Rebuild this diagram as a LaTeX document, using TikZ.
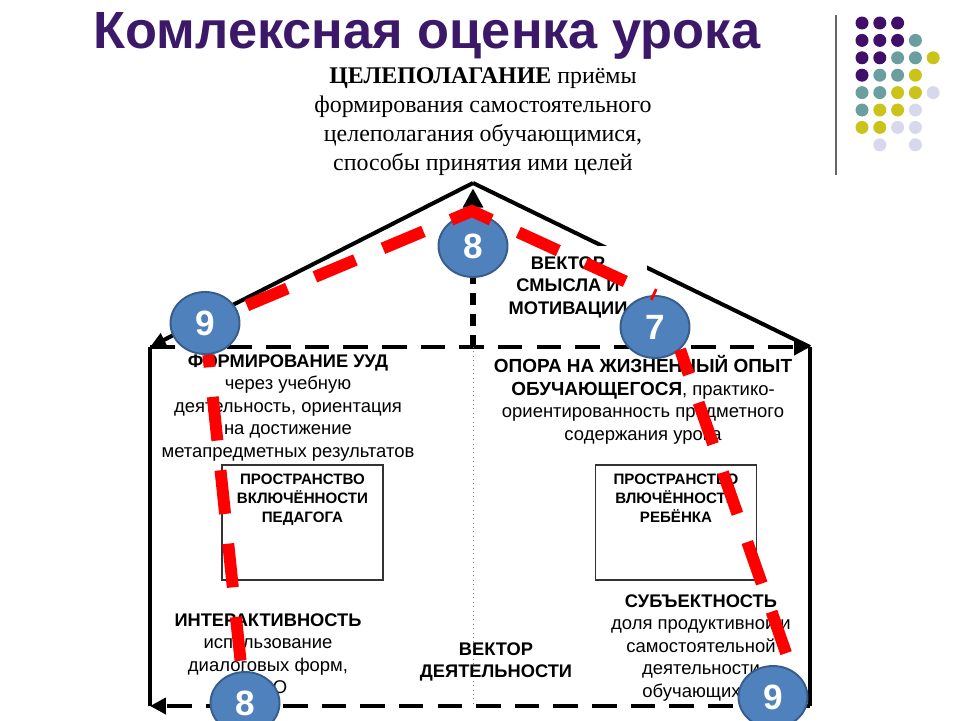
\documentclass[tikz,border=0pt]{standalone}
\usepackage{fontspec}
\setmainfont{Liberation Sans}
\newfontfamily\tnr{Liberation Serif}
\usetikzlibrary{shapes.geometric,arrows.meta}
\definecolor{titlepurple}{HTML}{3B1868}
\definecolor{dotP}{HTML}{3F0F6A}
\definecolor{dotT}{HTML}{6A9E9F}
\definecolor{dotY}{HTML}{C9C31A}
\definecolor{dotL}{HTML}{D8D8EC}
\definecolor{numblue}{HTML}{4F81BD}
\definecolor{numedge}{HTML}{385D8A}
\begin{document}
\begin{tikzpicture}[x=0.02cm, y=-0.02cm]
\tikzstyle{wall} = [line width=2.3pt, black]
\tikzstyle{floor} = [line width=2.8pt, dash pattern=on 14pt off 8pt, -{Triangle[length=9pt,width=9pt]}]
\tikzstyle{num} = [ellipse, fill=numblue, draw=numedge, line width=1.1pt, minimum width=1.38cm, minimum height=1.24cm, inner sep=0pt, text=white, font=\fontsize{20}{20}\selectfont\bfseries]
\tikzstyle{txt} = [align=center, inner sep=0pt, anchor=north, font=\fontsize{10.5}{12.8}\selectfont]
\tikzstyle{head} = [font=\bfseries\fontsize{10.4}{12.8}\selectfont]
\tikzstyle{space} = [draw=black!80, line width=0.85pt, minimum width=3.22cm, minimum height=2.3cm]
\tikzstyle{spacetxt} = [align=center, inner sep=0pt, anchor=north, font=\bfseries\fontsize{8.6}{10.8}\selectfont]
\tikzstyle{redline} = [red, line width=6.8pt, dash pattern=on 25pt off 17pt, dash phase=36pt]
\useasboundingbox (0,0) rectangle (960,720);

% title and dots
\node[font=\fontsize{29.8}{30}\selectfont\bfseries, text=titlepurple, anchor=base] (title) at (427,48) {Комлексная оценка урока};
\draw[line width=1.2pt, black!60] (836,15) -- (836,175);
\foreach \r/\c/\col in {1/1/dotP,1/2/dotP,1/3/dotP,
  2/1/dotP,2/2/dotP,2/3/dotP,2/4/dotT,
  3/1/dotP,3/2/dotP,3/3/dotT,3/4/dotT,3/5/dotY,
  4/1/dotP,4/2/dotT,4/3/dotT,4/4/dotY,
  5/1/dotT,5/2/dotT,5/3/dotY,5/4/dotY,5/5/dotL,
  6/1/dotT,6/2/dotY,6/3/dotY,6/4/dotL,
  7/1/dotY,7/2/dotY,7/3/dotL,7/4/dotL,
  8/2/dotL,8/4/dotL}
  \fill[\col] ({862+17.8*(\c-1)},{23+17.4*(\r-1)}) circle (0.13cm);

% house
\coordinate (apex) at (473,183);
\coordinate (lc) at (150,347);
\coordinate (rc) at (810,347);
\coordinate (lb) at (150,706);
\coordinate (rb) at (810,706);
\coordinate (mt) at (473,347);
\coordinate (mb) at (473,706);
\draw[wall, -{Triangle[length=9pt,width=8pt]}] (apex) -- (lc);
\draw[wall] (apex) -- (rc);
\draw[wall] (lc) -- (lb);
\draw[wall] (rc) -- (rb);
\draw[floor] (lc) -- (rc);
\draw[floor] (rb) -- (lb);
\draw[gray, line width=0.5pt, dotted] (mt) -- (mb);
\draw[line width=3.4pt, dash pattern=on 7pt off 5pt, shorten >=3pt, -{Triangle[length=11pt,width=11pt]}] (mt) -- (apex);

% texts
\node[txt, font=\tnr\fontsize{13.6}{16.5}\selectfont] (goal) at (483,67) {\textbf{ЦЕЛЕПОЛАГАНИЕ} приёмы\\формирования самостоятельного\\целеполагания обучающимися,\\способы принятия ими целей};
\node[head, align=center, fill=white, inner xsep=0.4cm, inner ysep=0.2cm] (vsmysl) at (568,287) {ВЕКТОР\\СМЫСЛА И\\МОТИВАЦИИ};
\node[txt] (uud) at (288,354) {{\bfseries\fontsize{10.4}{12.8}\selectfont ФОРМИРОВАНИЕ УУД}\\через учебную\\деятельность, ориентация\\на достижение\\метапредметных результатов};
\node[txt] (opyt) at (643,355) {{\bfseries\fontsize{10.8}{12.8}\selectfont ОПОРА НА ЖИЗНЕННЫЙ ОПЫТ}\\{\bfseries\fontsize{10.8}{12.8}\selectfont ОБУЧАЮЩЕГОСЯ}, практико-\\ориентированность предметного\\содержания урока};
\node[space] (ped) at (302.5,522.5) {};
\node[spacetxt] (pedtxt) at ([yshift=-0.18cm]ped.north) {ПРОСТРАНСТВО\\ВКЛЮЧЁННОСТИ\\ПЕДАГОГА};
\node[space] (reb) at (676,522.5) {};
\node[spacetxt] (rebtxt) at ([yshift=-0.18cm]reb.north) {ПРОСТРАНСТВО\\ВЛЮЧЁННОСТИ\\РЕБЁНКА};
\node[txt] (inter) at (268,613) {{\bfseries\fontsize{10.4}{12.8}\selectfont ИНТЕРАКТИВНОСТЬ}\\использование\\диалоговых форм,\\ТСО};
\node[txt] (subj) at (701,594) {{\bfseries\fontsize{10.4}{12.8}\selectfont СУБЪЕКТНОСТЬ}\\доля продуктивной и\\самостоятельной\\деятельности\\обучающихся};
\node[txt, head] (vdeyat) at (496,642) {ВЕКТОР\\ДЕЯТЕЛЬНОСТИ};

% numbers
\node[num] (nine-top) at (205,323) {9};
\node[num] (eight-top) at (473,246) {8};
\node[num] (seven) at (655,327) {7};
\node[num] (eight-bot) at (245,703) {8};
\node[num] (nine-bot) at (773,697) {9};

% red path
\coordinate (redtop) at (472,211);
\draw[redline] (eight-bot) -- (nine-top) -- (redtop) -- (seven.north);
\draw[redline, dash phase=10pt] (seven.south east) -- (nine-bot.55);
\end{tikzpicture}
\end{document}
